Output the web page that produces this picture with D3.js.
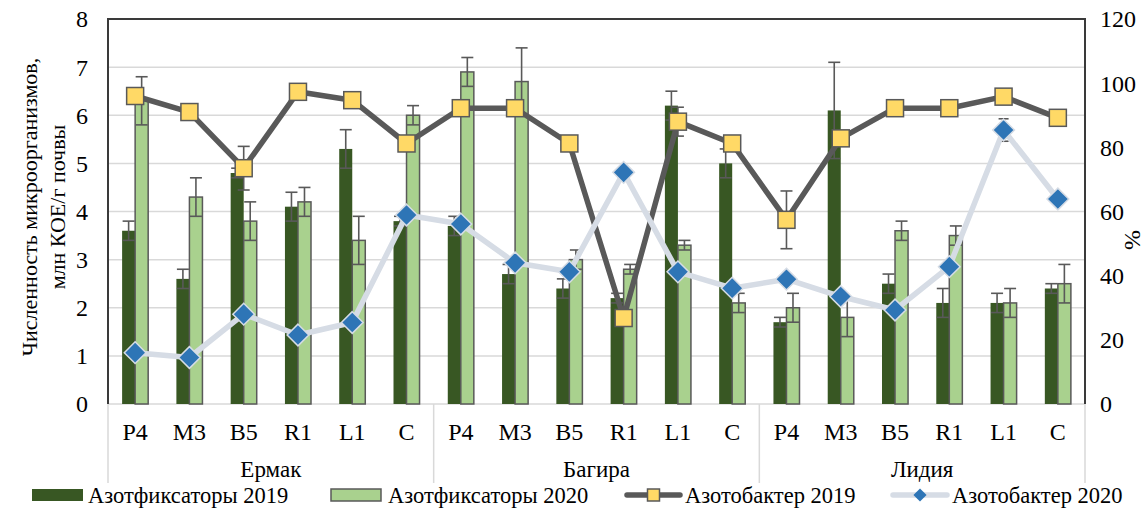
<!DOCTYPE html>
<html><head><meta charset="utf-8">
<script src="https://cdn.jsdelivr.net/npm/d3@7"></script>
<style>
body{margin:0;background:#fff}
svg{display:block}
text{font-family:"Liberation Serif","Times New Roman",serif;fill:#000}
</style>
</head><body><svg id="c" width="1146" height="510"></svg>
<script>
// ---- data ----
const groups = ["Ермак", "Багира", "Лидия"];
const samples = ["P4", "M3", "B5", "R1", "L1", "C"];
const fix2019    = [3.6, 2.6, 4.8, 4.1, 5.3, 3.8,   3.7, 2.7, 2.4, 2.2, 6.2, 5.0,   1.7, 6.1, 2.5, 2.1, 2.1, 2.4];
const fix2019Err = [0.2, 0.2, 0.1, 0.3, 0.4, 0.1,   0.2, 0.2, 0.2, 0.1, 0.3, 0.3,   0.1, 1.0, 0.2, 0.3, 0.2, 0.1];
const fix2020    = [6.3, 4.3, 3.8, 4.2, 3.4, 6.0,   6.9, 6.7, 3.0, 2.8, 3.3, 2.1,   2.0, 1.8, 3.6, 3.5, 2.1, 2.5];
const fix2020Err = [0.5, 0.4, 0.4, 0.3, 0.5, 0.2,   0.3, 0.7, 0.2, 0.1, 0.1, 0.2,   0.3, 0.4, 0.2, 0.2, 0.3, 0.4];
const azo2019    = [96, 91, 73.5, 97.3, 94.7, 81.2,   92.2, 92.2, 81.2, 26.8, 88, 81.2,   57.4, 82.8, 92.2, 92.2, 95.8, 89.2];
const azo2019Err = [1.5, 1.5, 6.8, 1.5, 1.5, 1.5,   1.5, 1.5, 1.5, 1.5, 4.5, 1.5,   9, 1.5, 1.5, 1.5, 1.5, 1.5];
const azo2020    = [16, 14.5, 28, 21.5, 25.4, 58.9,   56.1, 44, 41.2, 72.2, 41.2, 36.1,   38.9, 33.5, 29.3, 42.8, 85.4, 63.9];
const azo2020Err = [1, 1, 1, 1, 1, 1,   1, 1, 1, 1, 1, 1,   1, 1, 1, 1, 3.5, 1];
const leftTicks = [0, 1, 2, 3, 4, 5, 6, 7, 8];
const rightTicks = [0, 20, 40, 60, 80, 100, 120];
const seriesNames = ["Азотфиксаторы 2019", "Азотфиксаторы 2020", "Азотобактер 2019", "Азотобактер 2020"];
const yTitle = ["Численность микроорганизмов,", "млн КОЕ/г почвы"];
const rTitle = "%";

// ---- layout ----
const FONT = 23;
const L = 108, R = 1085, T = 19, B = 404;
const cDark = "#385723", cLight = "#A9D18E", cGray = "#595959", cGrid = "#D9D9D9";
const cLine20 = "#D6DCE5", cDiamond = "#2E75B6", cSquare = "#FFD966";

const keys = [];
groups.forEach(g => samples.forEach(s => keys.push(g + "|" + s)));
const rows = keys.map((k, i) => ({k, g: k.split("|")[0], s: k.split("|")[1],
  f19: fix2019[i], f19e: fix2019Err[i], f20: fix2020[i], f20e: fix2020Err[i],
  a19: azo2019[i], a19e: azo2019Err[i], a20: azo2020[i], a20e: azo2020Err[i]}));

const svg = d3.select("#c");
svg.append("rect").attr("width", 1146).attr("height", 510).attr("fill", "#fff");

const x = d3.scaleBand().domain(keys).range([L, R]).padding(0);
const gx = d3.scaleBand().domain(groups).range([L, R]).padding(0);
const yL = d3.scaleLinear().domain([0, 8]).range([B, T]);
const yR = d3.scaleLinear().domain([0, 120]).range([B, T]);
const bw = x.bandwidth() * 0.24;
const cx = k => x(k) + x.bandwidth() / 2;

// gridlines
svg.append("g").selectAll("line").data(leftTicks.filter(t => t > 0 && t < 8)).join("line")
  .attr("x1", L).attr("x2", R).attr("y1", d => yL(d)).attr("y2", d => yL(d))
  .attr("stroke", cGrid).attr("stroke-width", 1.5);

// category axis line & separators
svg.append("line").attr("x1", L).attr("x2", R).attr("y1", B).attr("y2", B)
  .attr("stroke", cGrid).attr("stroke-width", 1.5);
const seps = groups.map(g => gx(g)).concat([R]);
svg.append("g").selectAll("line").data(seps).join("line")
  .attr("x1", d => d).attr("x2", d => d).attr("y1", B).attr("y2", 483)
  .attr("stroke", cGrid).attr("stroke-width", 1.5);

// bars
svg.append("g").selectAll("rect").data(rows).join("rect")
  .attr("x", d => cx(d.k) - bw).attr("width", bw)
  .attr("y", d => yL(d.f19)).attr("height", d => B - yL(d.f19))
  .attr("fill", cDark);
svg.append("g").selectAll("rect").data(rows).join("rect")
  .attr("x", d => cx(d.k)).attr("width", bw)
  .attr("y", d => yL(d.f20)).attr("height", d => B - yL(d.f20))
  .attr("fill", cLight).attr("stroke", cGray).attr("stroke-width", 1.5);

function errBars(data, xf, vf, ef, scale, cap) {
  const g = svg.append("g").attr("stroke", cGray).attr("stroke-width", 1.6);
  data.forEach(d => {
    const xx = xf(d), y1 = scale(vf(d) + ef(d)), y2 = scale(vf(d) - ef(d));
    g.append("line").attr("x1", xx).attr("x2", xx).attr("y1", y1).attr("y2", y2);
    g.append("line").attr("x1", xx - cap).attr("x2", xx + cap).attr("y1", y1).attr("y2", y1);
    g.append("line").attr("x1", xx - cap).attr("x2", xx + cap).attr("y1", y2).attr("y2", y2);
  });
}
errBars(rows, d => cx(d.k) - bw / 2, d => d.f19, d => d.f19e, yL, 6);
errBars(rows, d => cx(d.k) + bw / 2, d => d.f20, d => d.f20e, yL, 6);

// line 2019
errBars(rows, d => cx(d.k), d => d.a19, d => d.a19e, yR, 6);
svg.append("path").datum(rows)
  .attr("d", d3.line().x(d => cx(d.k)).y(d => yR(d.a19)))
  .attr("fill", "none").attr("stroke", cGray).attr("stroke-width", 5.5).attr("stroke-linejoin", "round");
svg.append("g").selectAll("rect").data(rows).join("rect")
  .attr("x", d => cx(d.k) - 8.5).attr("y", d => yR(d.a19) - 8.5)
  .attr("width", 17).attr("height", 17)
  .attr("fill", cSquare).attr("stroke", cGray).attr("stroke-width", 1.5);

// line 2020
errBars(rows, d => cx(d.k), d => d.a20, d => d.a20e, yR, 5);
svg.append("path").datum(rows)
  .attr("d", d3.line().x(d => cx(d.k)).y(d => yR(d.a20)))
  .attr("fill", "none").attr("stroke", cLine20).attr("stroke-width", 5.5).attr("stroke-linejoin", "round");
const dia = d3.symbol().type(d3.symbolDiamond2).size(300);
svg.append("g").selectAll("path").data(rows).join("path")
  .attr("d", dia)
  .attr("transform", d => `translate(${cx(d.k)},${yR(d.a20)})`)
  .attr("fill", cDiamond).attr("stroke", cLine20).attr("stroke-width", 1.5);

// frame: left, top, right
svg.append("path").attr("d", `M${L},${B}V${T}H${R}V${B}`)
  .attr("fill", "none").attr("stroke", "#3a3a3a").attr("stroke-width", 2);

// left ticks
svg.append("g").selectAll("text").data(leftTicks).join("text")
  .attr("x", 88).attr("y", d => yL(d)).attr("dy", "0.35em")
  .attr("text-anchor", "end").attr("font-size", 24).text(d => d);
// right ticks
svg.append("g").selectAll("text").data(rightTicks).join("text")
  .attr("x", 1100).attr("y", d => yR(d)).attr("dy", "0.35em")
  .attr("text-anchor", "start").attr("font-size", 24).text(d => d);

// category labels
svg.append("g").selectAll("text").data(rows).join("text")
  .attr("x", d => cx(d.k)).attr("y", 440).attr("text-anchor", "middle")
  .attr("font-size", 24).text(d => d.s);
// group labels
svg.append("g").selectAll("text").data(groups).join("text")
  .attr("x", d => gx(d) + gx.bandwidth() / 2).attr("y", 477).attr("text-anchor", "middle")
  .attr("font-size", FONT).text(d => d);

// axis titles
svg.append("text").attr("transform", "translate(37,207) rotate(-90)")
  .attr("text-anchor", "middle").attr("font-size", 22).text(yTitle[0]);
svg.append("text").attr("transform", "translate(65,207) rotate(-90)")
  .attr("text-anchor", "middle").attr("font-size", 22).text(yTitle[1]);
svg.append("text").attr("transform", "translate(1140,240) rotate(-90)")
  .attr("text-anchor", "middle").attr("font-size", 24).text(rTitle);

// legend
const ly = 495, LF = 22.5;
const lg = svg.append("g");
lg.append("rect").attr("x", 32).attr("y", ly - 6).attr("width", 51).attr("height", 12).attr("fill", cDark);
lg.append("text").attr("x", 88).attr("y", ly).attr("dy", "0.35em").attr("font-size", LF).text(seriesNames[0]);
lg.append("rect").attr("x", 331).attr("y", ly - 6).attr("width", 50).attr("height", 12)
  .attr("fill", cLight).attr("stroke", cGray).attr("stroke-width", 1.5);
lg.append("text").attr("x", 388).attr("y", ly).attr("dy", "0.35em").attr("font-size", LF).text(seriesNames[1]);
lg.append("line").attr("x1", 627).attr("x2", 680).attr("y1", ly).attr("y2", ly)
  .attr("stroke", cGray).attr("stroke-width", 5.5).attr("stroke-linecap", "round");
lg.append("rect").attr("x", 647.5).attr("y", ly - 6).attr("width", 12).attr("height", 12)
  .attr("fill", cSquare).attr("stroke", cGray).attr("stroke-width", 1.5);
lg.append("text").attr("x", 685).attr("y", ly).attr("dy", "0.35em").attr("font-size", LF).text(seriesNames[2]);
lg.append("line").attr("x1", 893).attr("x2", 947).attr("y1", ly).attr("y2", ly)
  .attr("stroke", cLine20).attr("stroke-width", 5.5).attr("stroke-linecap", "round");
lg.append("path").attr("d", d3.symbol().type(d3.symbolDiamond2).size(110))
  .attr("transform", `translate(920,${ly})`).attr("fill", cDiamond);
lg.append("text").attr("x", 952).attr("y", ly).attr("dy", "0.35em").attr("font-size", LF).text(seriesNames[3]);
</script>
</body></html>
